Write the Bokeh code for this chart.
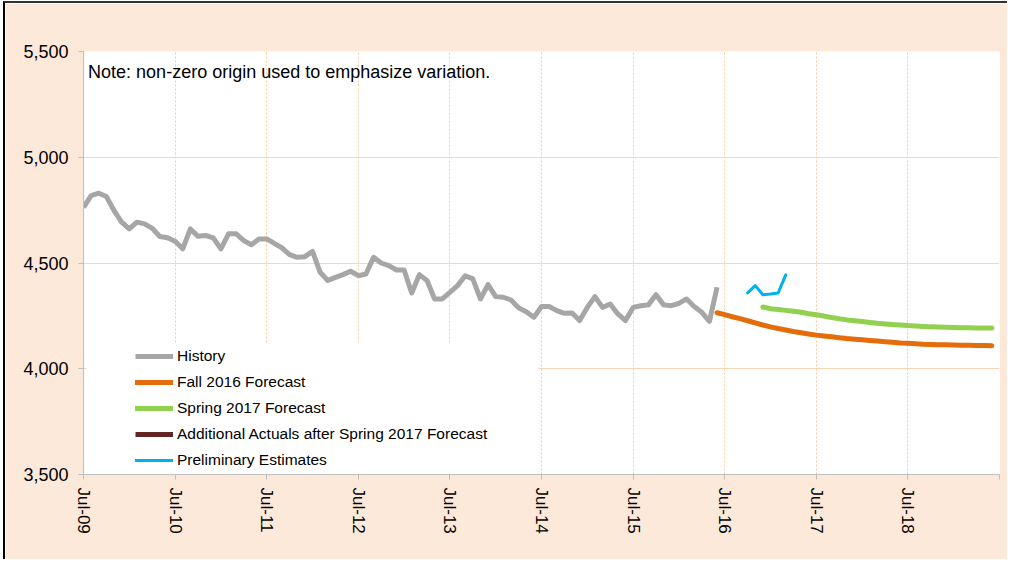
from bokeh.plotting import figure
from bokeh.models import FixedTicker, NumeralTickFormatter, Label, BoxAnnotation
from bokeh.embed import file_html
from bokeh.resources import INLINE

# ---- data (months counted from Jul-09 = 0) ----
tick_labels = ["Jul-09", "Jul-10", "Jul-11", "Jul-12", "Jul-13",
               "Jul-14", "Jul-15", "Jul-16", "Jul-17", "Jul-18"]
tick_months = [0, 12, 24, 36, 48, 60, 72, 84, 96, 108]

history = [4763, 4819, 4830, 4814, 4748, 4693, 4661, 4693, 4685, 4664,
           4625, 4619, 4603, 4567, 4661, 4626, 4630, 4619, 4567, 4638,
           4638, 4606, 4586, 4614, 4614, 4593, 4571, 4540, 4527, 4530,
           4555, 4456, 4417, 4432, 4445, 4461, 4440, 4448, 4527, 4500,
           4488, 4467, 4467, 4358, 4445, 4417, 4330, 4330, 4361, 4393,
           4440, 4425, 4330, 4398, 4341, 4338, 4325, 4288, 4270, 4243,
           4294, 4294, 4275, 4262, 4264, 4228, 4290, 4341, 4290, 4306,
           4259, 4228, 4290, 4298, 4302, 4350, 4302, 4298, 4309, 4330,
           4294, 4267, 4224, 4385]
history_start = 0

fall2016 = [4265, 4256, 4246, 4237, 4227, 4217, 4207, 4198, 4190, 4183,
            4176, 4170, 4164, 4159, 4155, 4151, 4147, 4143, 4140, 4137,
            4134, 4131, 4128, 4125, 4122, 4120, 4118, 4116, 4115, 4114,
            4113, 4112, 4111, 4111, 4110, 4110, 4109]
fall2016_start = 83

spring2017 = [4292, 4284, 4280, 4276, 4272, 4267, 4260, 4255, 4249, 4242,
              4236, 4231, 4227, 4223, 4219, 4215, 4212, 4209, 4207, 4204,
              4202, 4200, 4198, 4197, 4196, 4195, 4194, 4194, 4193, 4193,
              4193]
spring2017_start = 89

# series shown only in the legend (no values plotted)
additional_actuals = [float("nan")]
additional_start = 0

preliminary = [4359, 4393, 4350, 4353, 4358, 4444]
preliminary_start = 87


def months(start, values):
    return list(range(start, start + len(values)))


FONT = "Liberation Sans"
PEACH = "#FDE9D9"
GRID = "#FCD5B4"
AXIS = "#BFBFBF"

p = figure(width=1004, height=558, x_range=(0, 120), y_range=(3500, 5500),
           output_backend="svg", toolbar_location=None,
           min_border_left=78, min_border_right=10,
           min_border_top=48, min_border_bottom=87)

p.background_fill_color = "white"
p.border_fill_color = PEACH
p.outline_line_color = None
p.styles = {"margin-left": "3px", "margin-top": "1px",
            "border-top": "2px solid #333333", "border-left": "2px solid #000000"}

# axes
p.xaxis.ticker = FixedTicker(ticks=tick_months + [120])
overrides = {m: lab for m, lab in zip(tick_months, tick_labels)}
overrides[120] = ""
p.xaxis.major_label_overrides = overrides
p.xaxis.major_label_orientation = "vertical"
p.xaxis.major_label_text_font = FONT
p.xaxis.major_label_text_font_size = "17px"
p.xaxis.major_label_text_color = "#000000"
p.xaxis.major_label_standoff = 8
p.xaxis.major_tick_in = 0
p.xaxis.major_tick_out = 5
p.xaxis.minor_tick_line_color = None
p.xaxis.axis_line_color = AXIS
p.xaxis.major_tick_line_color = AXIS

p.yaxis.ticker = FixedTicker(ticks=[3500, 4000, 4500, 5000, 5500])
p.yaxis.formatter = NumeralTickFormatter(format="0,0")
p.yaxis.major_label_text_font = FONT
p.yaxis.major_label_text_font_size = "18px"
p.yaxis.major_label_text_color = "#000000"
p.yaxis.major_label_standoff = 10
p.yaxis.major_tick_in = 0
p.yaxis.major_tick_out = 5
p.yaxis.minor_tick_line_color = None
p.yaxis.axis_line_color = AXIS
p.yaxis.major_tick_line_color = AXIS

# grids
p.ygrid.ticker = FixedTicker(ticks=[4000, 4500, 5000])
p.ygrid.grid_line_color = GRID
p.ygrid.grid_line_width = 1
p.xgrid.ticker = FixedTicker(ticks=tick_months[1:] + [120])
p.xgrid.grid_line_color = "#FAC8A0"
p.xgrid.grid_line_dash = "2 2"
p.xgrid.grid_line_width = 1

# white area behind the legend (covers the gridlines there)
p.add_layout(BoxAnnotation(left=0.4, right=59.6, bottom=3500, top=4119,
                           fill_color="white", fill_alpha=1.0,
                           line_color=None, level="underlay"))

# series
p.line(months(history_start, history), history, line_color="#A6A6A6",
       line_width=5, line_join="round", legend_label="History")
p.line(months(fall2016_start, fall2016), fall2016, line_color="#E46C0A",
       line_width=5, line_join="round", line_cap="round",
       legend_label="Fall 2016 Forecast")
p.line(months(spring2017_start, spring2017), spring2017, line_color="#92D050",
       line_width=5, line_join="round", line_cap="round",
       legend_label="Spring 2017 Forecast")
p.line(months(additional_start, additional_actuals), additional_actuals,
       line_color="#632523", line_width=5,
       legend_label="Additional Actuals after Spring 2017 Forecast")
p.line(months(preliminary_start, preliminary), preliminary, line_color="#00B0F0",
       line_width=3, line_join="round", line_cap="round",
       legend_label="Preliminary Estimates")

# note
p.add_layout(Label(x=0.6, y=5403, text="Note: non-zero origin used to emphasize variation.",
                   text_font=FONT, text_font_size="18px", text_color="#000000",
                   text_baseline="middle", text_align="left"))

# legend
lg = p.legend[0]
lg.location = (52, 4)
lg.glyph_width = 38
lg.glyph_height = 20
lg.label_height = 20
lg.spacing = 6
lg.padding = 0
lg.margin = 0
lg.label_standoff = 4
lg.label_text_font = FONT
lg.label_text_font_size = "15.5px"
lg.label_text_color = "#000000"
lg.background_fill_alpha = 0
lg.border_line_color = None

open("out.html", "w").write(file_html(p, INLINE))
